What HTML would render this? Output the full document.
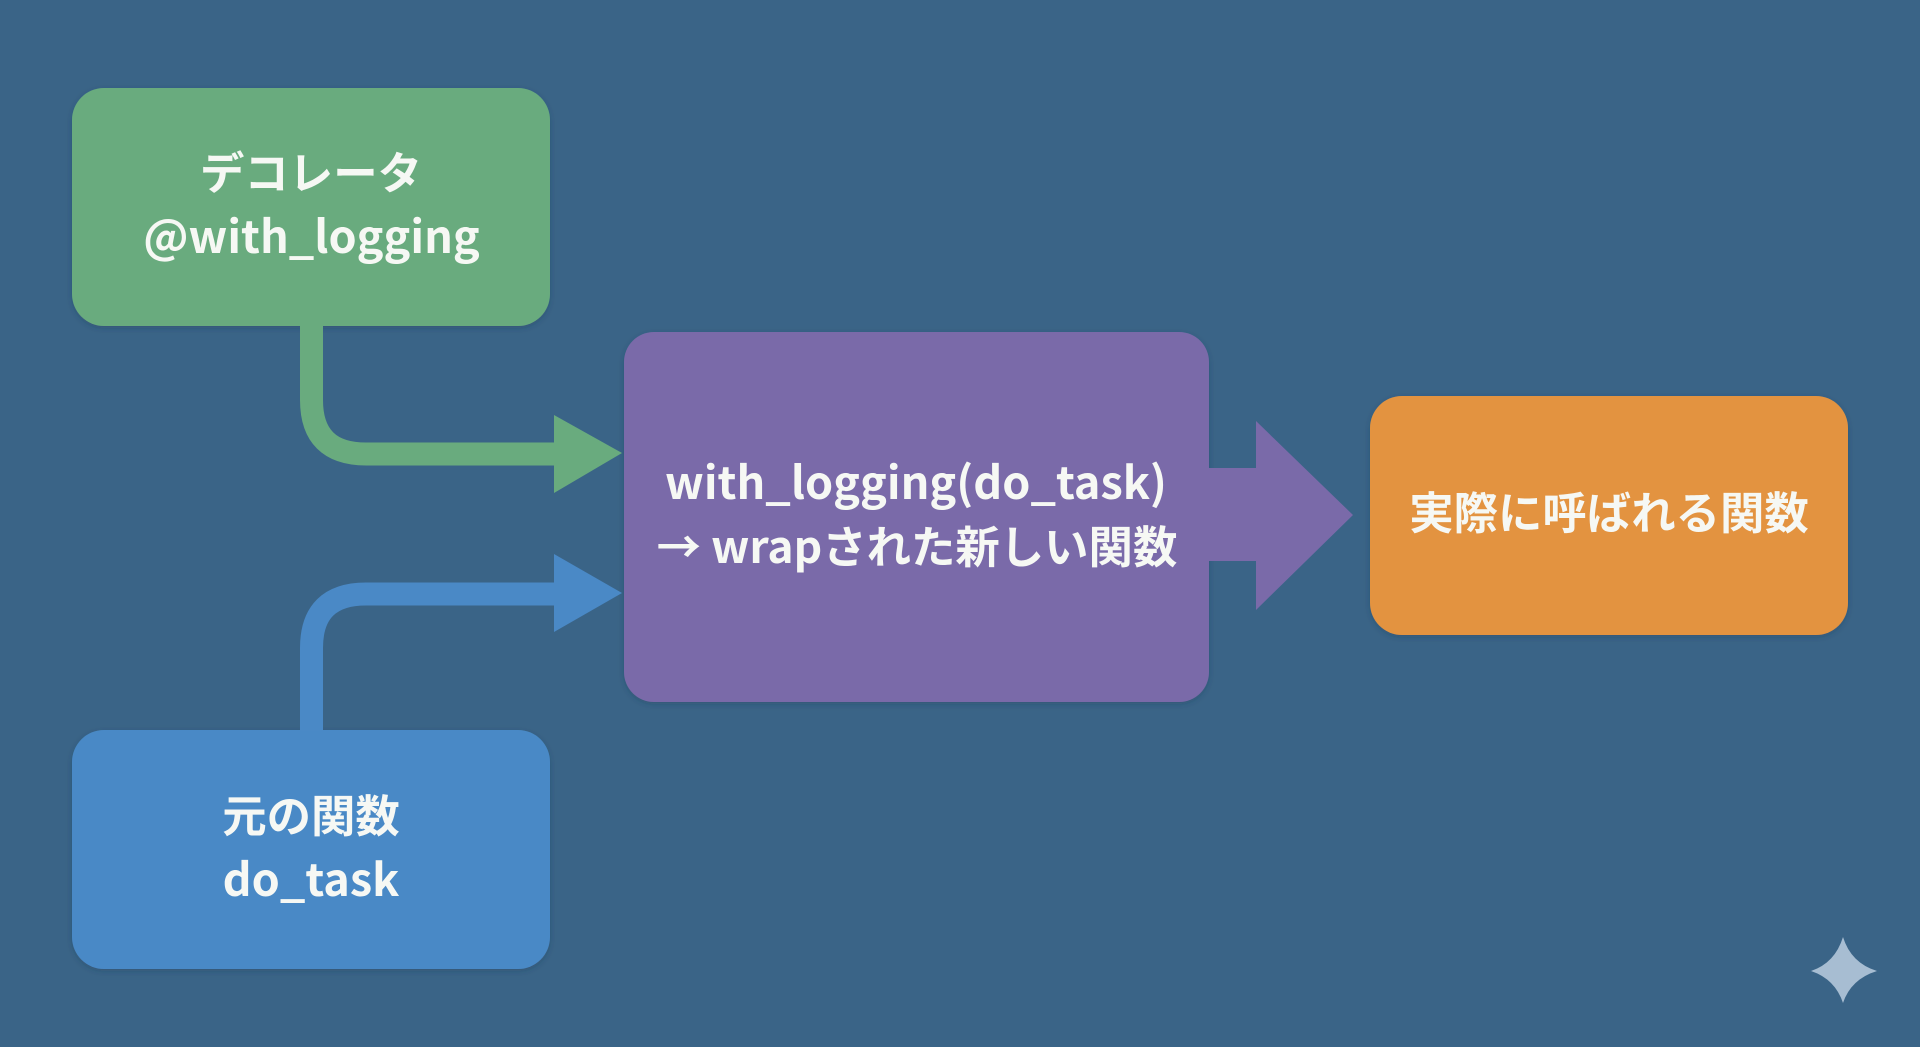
<!DOCTYPE html>
<html lang="ja">
<head>
<meta charset="utf-8">
<style>
html,body{margin:0;padding:0;width:1920px;height:1047px;overflow:hidden;background:#3a6487}
svg{display:block}
text{font-family:"Noto Sans CJK JP","Noto Sans CJK SC","Liberation Sans",sans-serif;font-size:45px;font-weight:700;fill:#f6f8f4;text-anchor:middle}
text.c{font-size:44.4px}
</style>
</head>
<body>
<svg width="1920" height="1047" viewBox="0 0 1920 1047" xmlns="http://www.w3.org/2000/svg">
<defs>
<filter id="s" x="-10%" y="-10%" width="120%" height="120%"><feDropShadow dx="0" dy="2" stdDeviation="3" flood-color="#1c3550" flood-opacity="0.3"/></filter>
</defs>
<rect width="1920" height="1047" fill="#3a6487"/>

<!-- boxes -->
<rect x="72" y="88" width="478" height="238" rx="32" fill="#69ab7e" filter="url(#s)"/>
<rect x="72" y="730" width="478" height="239" rx="32" fill="#4a89c6" filter="url(#s)"/>
<rect x="624" y="332" width="585" height="370" rx="30" fill="#7a6aa9" filter="url(#s)"/>
<rect x="1370" y="396" width="478" height="239" rx="32" fill="#e3933f" filter="url(#s)"/>

<!-- green connector -->
<path d="M311.5 325V400Q311.5 454 366 454H560" fill="none" stroke="#69ab7e" stroke-width="23"/>
<polygon points="554,415 622,453 554,493" fill="#69ab7e"/>

<!-- blue connector -->
<path d="M311.5 731V648Q311.5 594 366 594H560" fill="none" stroke="#4a89c6" stroke-width="23"/>
<polygon points="554,554 622,593 554,632" fill="#4a89c6"/>

<!-- purple arrow -->
<polygon points="1208,468 1256,468 1256,421 1353,515 1256,610 1256,561 1208,561" fill="#7a6aa9"/>

<!-- labels -->
<text class="c" x="311" y="189">デコレータ</text>
<text x="311.5" y="253">@with_logging</text>
<text class="c" x="311" y="832">元の関数</text>
<text x="311" y="896">do_task</text>
<text x="916" y="499">with_logging(do_task)</text>
<text class="c" x="917" y="563">→ wrapされた新しい関数</text>
<text class="c" x="1609" y="529">実際に呼ばれる関数</text>

<!-- sparkle -->
<path d="M1843 937Q1851 963 1877 971Q1851 979 1843 1003Q1835 979 1811 971Q1835 963 1843 937Z" fill="#a7bdd2"/>
</svg>
</body>
</html>
